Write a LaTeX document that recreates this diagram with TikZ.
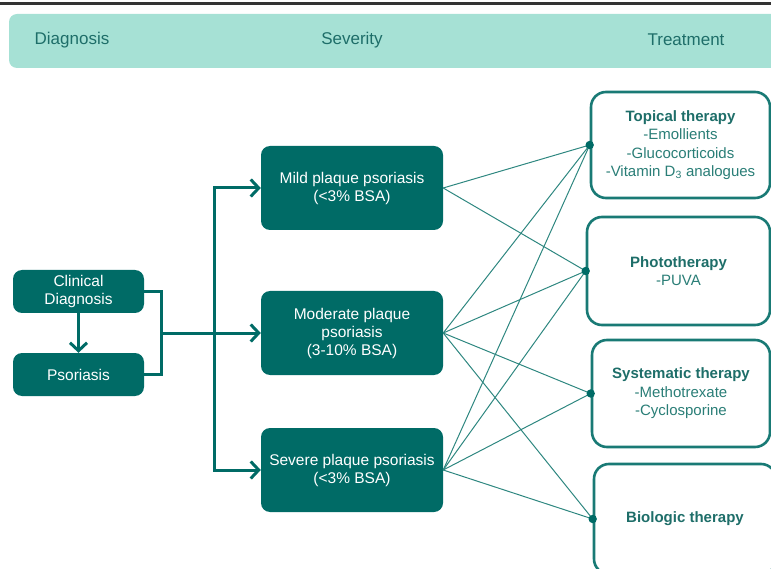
\documentclass[tikz,border=0pt]{standalone}
\usepackage{fontspec}
\setmainfont{Liberation Sans}
\usetikzlibrary{arrows.meta}
\definecolor{psodark}{HTML}{006B66}
\definecolor{psolight}{HTML}{A6E1D5}
\definecolor{psohead}{HTML}{1E6E69}
\definecolor{psoline}{HTML}{2E8780}
\definecolor{psosub}{HTML}{2A7E77}
\tikzset{
  darkbox/.style={rounded corners=9pt, fill=psodark, text=white, align=center,
    inner sep=0pt, font=\fontsize{15.5}{18}\selectfont},
  treatbox/.style={rounded corners=15pt, draw=psodark!90!white, line width=2.6pt,
    fill=white, text=psosub, align=center, inner sep=0pt,
    font=\fontsize{15}{18.5}\selectfont},
  headtext/.style={text=psohead, font=\fontsize{17}{18}\selectfont},
  thickarrow/.style={draw=psodark, line width=3pt, -{Straight Barb[length=8pt,width=17pt,line width=3pt]}},
  thickline/.style={draw=psodark, line width=3pt},
  thinline/.style={draw=psoline, line width=1pt},
}
\newcommand{\ttl}[1]{\textbf{\textcolor{psohead}{#1}}}
\begin{document}
\begin{tikzpicture}[x=1pt,y=-1pt]
      \useasboundingbox (0,0) rectangle (771,569);
      \clip (0,0) rectangle (771,569);
      % top rule
      \draw[line width=3pt, color=black!80] (0,4) -- (771,4);
      % header band
      \fill[psolight, rounded corners=8pt] (9,14) rectangle (785,68);
      \node[headtext] (hdiag) at (72,40) {Diagnosis};
      \node[headtext] (hsev) at (352,40) {Severity};
      \node[headtext] (htreat) at (686,40) {Treatment};
      % diagnosis
      \node[darkbox, minimum width=131pt, minimum height=43pt] (clin) at (78.5,291.5) {Clinical\\Diagnosis};
      \node[darkbox, minimum width=131pt, minimum height=43pt] (psor) at (78.5,374.5) {Psoriasis};
      % severity
      \node[darkbox, minimum width=182pt, minimum height=84pt] (mild) at (352,188) {Mild plaque psoriasis\\(<3\% BSA)};
      \node[darkbox, minimum width=182pt, minimum height=84pt] (mod) at (352,333) {Moderate plaque\\psoriasis\\(3-10\% BSA)};
      \node[darkbox, minimum width=182pt, minimum height=84pt] (sev) at (352,470) {Severe plaque psoriasis\\(<3\% BSA)};
      % treatment
      \node[treatbox, minimum width=179pt, minimum height=106pt] (topi) at (680.5,145) {\ttl{Topical therapy}\\-Emollients\\-Glucocorticoids\\-Vitamin D\textsubscript{3} analogues};
      \node[treatbox, minimum width=183pt, minimum height=108pt] (photo) at (678.5,271) {\ttl{Phototherapy}\\-PUVA};
      \node[treatbox, minimum width=178pt, minimum height=107pt] (syst) at (681,393.5) {\ttl{Systematic therapy}\\-Methotrexate\\-Cyclosporine};
      \node[treatbox, minimum width=182pt, minimum height=110pt] (bio) at (685,519) {\ttl{Biologic therapy}};
      % branches
      \coordinate (join) at (161,333);
      \coordinate (split) at (214,333);
      \draw[thickarrow] (clin) -- (psor);
      \draw[thickline] (clin.east) -| (join) |- (psor.east);
      \draw[thickarrow] (join) -- (mod.west);
      \draw[thickarrow] (split) |- (mild.west);
      \draw[thickarrow] (split) |- (sev.west);
      % links
      \draw[thinline] (mild.east) -- (topi.west);
      \draw[thinline] (mild.east) -- (photo.west);
      \foreach \t in {topi,photo,syst,bio}{
        \draw[thinline] (mod.east) -- (\t.west);
        \draw[thinline] (sev.east) -- (\t.west);
        \fill[psodark] (\t.west) circle (4.2pt);
      }
    \end{tikzpicture}
\end{document}
